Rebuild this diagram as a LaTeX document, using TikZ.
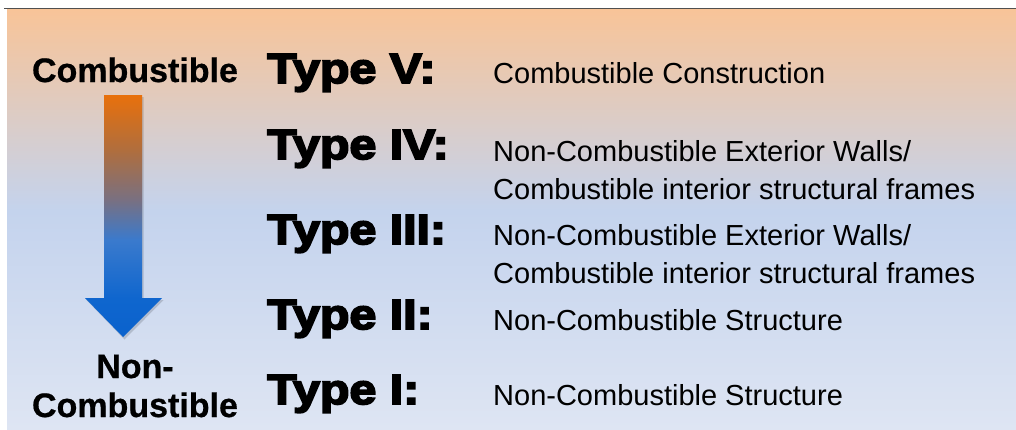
\documentclass[tikz,border=0pt]{standalone}
\usepackage{fontspec}
\setmainfont{Liberation Sans}
\newfontfamily\labelfont{Liberation Sans Bold}[FakeBold=0.6]
\newfontfamily\heavyfont{Liberation Sans Bold}[FakeBold=4.5,FakeStretch=1.15]

% background colours (top to bottom)
\definecolor{bgtop}{RGB}{248,196,152}
\definecolor{bgmid}{RGB}{196,211,237}
\definecolor{bgbot}{RGB}{222,229,243}
% arrow colours (top to bottom)
\definecolor{arA}{RGB}{232,112,12}
\definecolor{arB}{RGB}{175,110,62}
\definecolor{arC}{RGB}{122,112,128}
\definecolor{arD}{RGB}{58,122,205}
\definecolor{arE}{RGB}{15,102,206}
\definecolor{arF}{RGB}{10,98,205}
\definecolor{rulegray}{RGB}{80,80,80}

\pgfdeclareverticalshading{bgshade}{100bp}{%
  color(0bp)=(bgbot); color(25bp)=(bgbot); color(51bp)=(bgmid);
  color(75bp)=(bgtop); color(100bp)=(bgtop)}
\pgfdeclareverticalshading{arrowshade}{100bp}{%
  color(0bp)=(arF); color(25bp)=(arF); color(33bp)=(arE); color(45bp)=(arD);
  color(53.5bp)=(arC); color(63.5bp)=(arB); color(75bp)=(arA); color(100bp)=(arA)}

\tikzset{
  sidelabel/.style={font=\labelfont\fontsize{34}{40}\selectfont, inner sep=0pt, anchor=base},
  typelabel/.style={font=\heavyfont\fontsize{42}{48}\selectfont, inner sep=0pt, anchor=base west},
  desc/.style={font=\fontsize{29}{38}\selectfont, inner sep=0pt, anchor=base west},
}

\begin{document}
\begin{tikzpicture}[x=1pt,y=-1pt]
\useasboundingbox (0,0) rectangle (1016,429);

% shaded panel and its top rule
\path[shading=bgshade] (7,9) rectangle (1016,429);
\draw[rulegray, line width=1.8pt] (4,8.5) -- (1016,8.5);

% scale labels
\node[sidelabel] (comb) at (135,82) {Combustible};
\node[sidelabel] (noncombA) at (135,378) {Non-};
\node[sidelabel] (noncombB) at (135,417) {Combustible};

% graded block arrow
\fill[black, opacity=0.15] (105.5,97) -- (143.5,97) -- (143.5,300) -- (163.5,300)
  -- (124.5,339.5) -- (86.5,300) -- (105.5,300) -- cycle;
\path[shading=arrowshade] (104,95) -- (142,95) -- (142,298) -- (162,298)
  -- (123,337) -- (85,298) -- (104,298) -- cycle;

% construction types
\node[typelabel] (t5) at (267,83) {Type V:};
\node[typelabel] (t4) at (267,159) {Type IV:};
\node[typelabel] (t3) at (267,244) {Type III:};
\node[typelabel] (t2) at (267,329) {Type II:};
\node[typelabel] (t1) at (267,404) {Type I:};

% descriptions
\node[desc] (d5) at (493,83) {Combustible Construction};
\node[desc] (d4a) at (493,161) {Non-Combustible Exterior Walls/};
\node[desc] (d4b) at (493,199) {Combustible interior structural frames};
\node[desc] (d3a) at (493,245) {Non-Combustible Exterior Walls/};
\node[desc] (d3b) at (493,283) {Combustible interior structural frames};
\node[desc] (d2) at (493,330) {Non-Combustible Structure};
\node[desc] (d1) at (493,405) {Non-Combustible Structure};
\end{tikzpicture}
\end{document}
